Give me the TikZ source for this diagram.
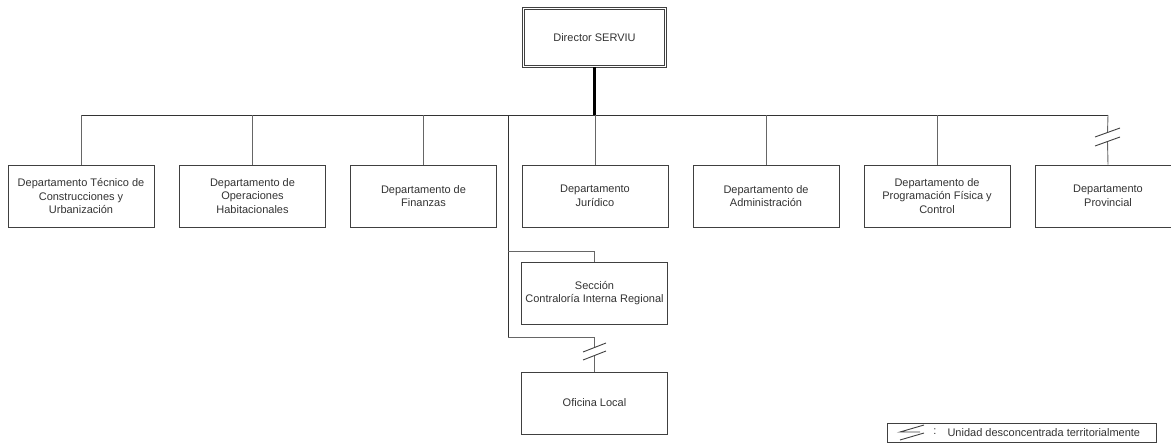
\documentclass[tikz,border=0pt]{standalone}
\usepackage{fontspec}
\setmainfont{Liberation Sans}
\usetikzlibrary{calc}

\begin{document}
\begin{tikzpicture}[x=1pt,y=-1pt]
\tikzstyle{caja}=[draw=black!75,line width=0.9pt,fill=white,minimum width=146pt,minimum height=62pt,align=center,inner sep=1pt,text=black!80,font=\fontsize{11}{13.6}\selectfont]
\tikzstyle{jefe}=[caja,double=white,double distance=1.6pt,minimum width=142pt,minimum height=58pt]
\tikzstyle{linea}=[draw=black!60,line width=0.9pt]
\tikzstyle{barra}=[draw=black!80,line width=1pt]
\tikzstyle{tronco}=[draw=black,line width=2.2pt]
\tikzstyle{corte}=[draw=black!75,line width=0.9pt]
\useasboundingbox (0,0) rectangle (1171,445);
\node[jefe] (dir) at (594.5,37.5) {Director SERVIU};
\node[caja] (d1) at (81,196) {Departamento Técnico de\\Construcciones y\\Urbanización};
\node[caja] (d2) at (252.5,196) {Departamento de\\Operaciones\\Habitacionales};
\node[caja] (d3) at (423.5,196) {Departamento de\\Finanzas};
\node[caja] (d4) at (595,196) {Departamento\\Jurídico};
\node[caja] (d5) at (766,196) {Departamento de\\Administración};
\node[caja] (d6) at (937,196) {Departamento de\\Programación Física y\\Control};
\node[caja] (d7) at (1108,196) {Departamento\\Provincial};
\node[caja] (sec) at (594.5,293) {Sección\\Contraloría Interna Regional};
\node[caja] (loc) at (594.5,403) {Oficina Local};
\coordinate (bus) at (595,115);
\draw[barra] (d1.north |- bus) -- (d7.north |- bus);
\foreach \d in {d1,d2,d3,d4,d5,d6}
  \draw[linea] (\d.north) -- (\d.north |- bus);
\draw[tronco] (dir.south) -- (dir.south |- bus);
\coordinate (k7a) at (1107.5,132.5);
\coordinate (k7b) at (1107.5,141.5);
\draw[linea] (d7.north |- bus) -- (k7a) (k7b) -- (d7.north);
\draw[corte] (k7a) ++(-12.5,4.5) -- ++(25,-9);
\draw[corte] (k7b) ++(-12.5,4.5) -- ++(25,-9);
\coordinate (tap) at (508,115);
\coordinate (tapsec) at (508,251);
\coordinate (tapend) at (508,337);
\draw[barra] (tap) -- (tapend);
\draw[linea] (tapsec) -| (sec.north);
\coordinate (kLa) at (594.5,347.5);
\coordinate (kLb) at (594.5,355.5);
\draw[linea] (tapend) -| (kLa) (kLb) -- (loc.north);
\draw[corte] (kLa) ++(-11.5,4.5) -- ++(23,-9);
\draw[corte] (kLb) ++(-11.5,4.5) -- ++(23,-9);
\node[draw=black!75,line width=0.8pt,minimum width=269pt,minimum height=19pt,inner sep=0pt] (ley) at (1022,433) {};
\coordinate (sim) at (912,432.5);
\draw[corte] (sim) ++(12,-7.5) -- ++(-24,7) -- ++(20,0);
\draw[corte] (sim) ++(-12,7.5) -- ++(24,-7);
\node[text=black!80,font=\fontsize{11}{13.6}\selectfont] (dosp) at (935,432) {:};
\node[anchor=west,text=black!80,font=\fontsize{11}{13.6}\selectfont] (leyt) at (944,433) {Unidad desconcentrada territorialmente};
\end{tikzpicture}
\end{document}
